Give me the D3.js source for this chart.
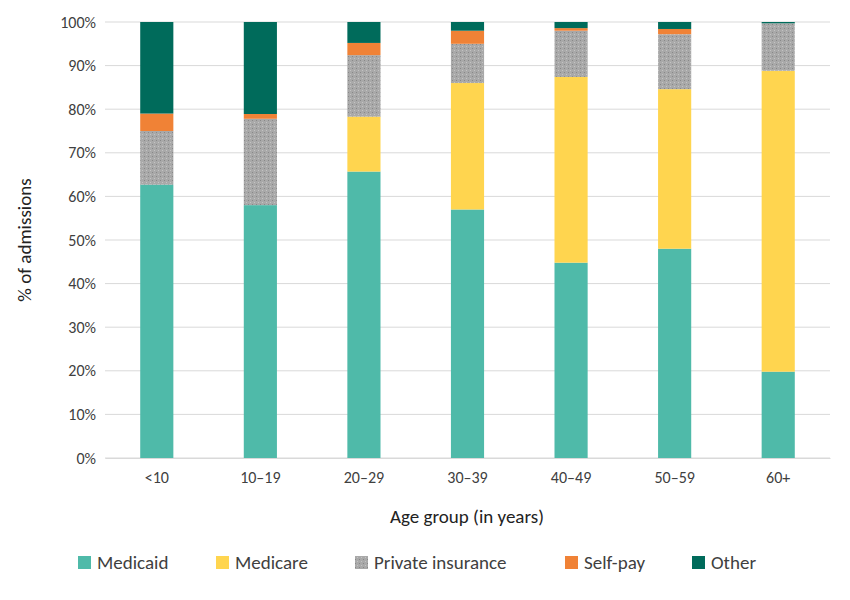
<!DOCTYPE html>
<html><head><meta charset="utf-8">
<script src="https://cdn.jsdelivr.net/npm/d3@7"></script>
<style>body{margin:0;background:#fff}text{font-family:Calibri,Carlito,"Open Sans",sans-serif}</style>
</head><body><svg id="c" width="850" height="600"></svg>
<script>
const categories=["<10","10–19","20–29","30–39","40–49","50–59","60+"];
const seriesNames=["Medicaid","Medicare","Private insurance","Self-pay","Other"];
const medicaid=[62.7,58.0,65.7,57.0,44.8,48.0,19.8];
const medicare=[0,0,12.6,29.0,42.6,36.6,69.0];
const privateIns=[12.3,19.8,14.1,9.0,10.6,12.6,10.9];
const selfPay=[4.0,1.1,2.8,3.0,0.6,1.2,0];
const other=[21.0,21.1,4.8,2.0,1.4,1.6,0.3];
const yTicks=[0,10,20,30,40,50,60,70,80,90,100];
const colors=["#4fbaa9","#ffd54f","url(#pat)","#f08236","#006b5b"];
const legendColors=["#4fbaa9","#ffd54f","#a6a6a6","#f08236","#006b5b"];

const svg=d3.select("#c");
const defs=svg.append("defs");
const p=defs.append("pattern").attr("id","pat").attr("width",4).attr("height",4).attr("patternUnits","userSpaceOnUse");
p.append("rect").attr("width",4).attr("height",4).attr("fill","#a9a9a9");
p.append("rect").attr("x",0).attr("y",0).attr("width",1).attr("height",1).attr("fill","#888");
p.append("rect").attr("x",2).attr("y",2).attr("width",1).attr("height",1).attr("fill","#c4c4c4");

const m={l:105,r:830,t:22,b:458};
const x=d3.scaleBand().domain(categories).range([m.l,m.r]).paddingInner(0.68).paddingOuter(0.34);
const y=d3.scaleLinear().domain([0,100]).range([m.b,m.t]);

svg.append("g").selectAll("line").data(yTicks).join("line")
 .attr("x1",m.l).attr("x2",m.r).attr("y1",d=>y(d)).attr("y2",d=>y(d))
 .attr("stroke","#d9d9d9").attr("stroke-width",1);

const rows=categories.map((c,i)=>({cat:c,Medicaid:medicaid[i],Medicare:medicare[i],"Private insurance":privateIns[i],"Self-pay":selfPay[i],Other:other[i]}));
const stack=d3.stack().keys(seriesNames)(rows);
svg.append("g").selectAll("g").data(stack).join("g").attr("fill",(d,i)=>colors[i])
 .selectAll("rect").data(d=>d).join("rect")
 .attr("x",d=>x(d.data.cat)).attr("width",x.bandwidth())
 .attr("y",d=>y(Math.min(100,d[1]))).attr("height",d=>y(d[0])-y(Math.min(100,d[1])));

const ya=svg.append("g").attr("transform",`translate(${m.l-6},0)`)
 .call(d3.axisLeft(y).tickValues(yTicks).tickFormat(d=>d+"%").tickSize(0));
ya.select(".domain").remove();
ya.selectAll("text").attr("font-size",16).attr("fill","#404040");

const xa=svg.append("g").attr("transform",`translate(0,${m.b})`)
 .call(d3.axisBottom(x).tickSize(0).tickPadding(14));
xa.select(".domain").attr("stroke","#d9d9d9");
xa.selectAll("text").attr("font-size",16).attr("fill","#404040");

svg.append("text").attr("x",467).attr("y",523).attr("text-anchor","middle").attr("font-size",19).attr("fill","#222").text("Age group (in years)");
svg.append("text").attr("transform","translate(31,240) rotate(-90)").attr("text-anchor","middle").attr("font-size",19).attr("fill","#222").text("% of admissions");

const lx=[78,216,355,565,692];
const lg=svg.append("g").selectAll("g").data(seriesNames).join("g").attr("transform",(d,i)=>`translate(${lx[i]},563)`);
lg.append("rect").attr("x",0).attr("y",-7).attr("width",13).attr("height",13).attr("fill",(d,i)=>i==2?"url(#pat)":legendColors[i]);
lg.append("text").attr("x",19).attr("y",6).attr("font-size",19).attr("fill","#404040").text(d=>d);
</script></body></html>
